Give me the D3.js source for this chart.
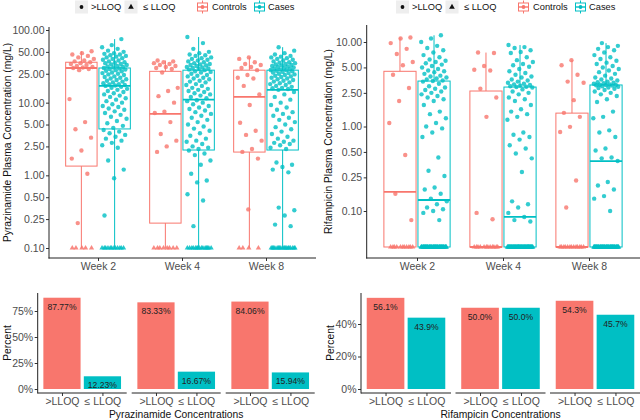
<!DOCTYPE html>
<html><head><meta charset="utf-8">
<script src="https://cdn.jsdelivr.net/npm/d3@7"></script>
<style>body{margin:0;background:#fff}svg{display:block;font-family:"Liberation Sans",Arial,sans-serif}</style>
</head><body><svg id="c" width="640" height="420"></svg>
<script>
const weeks = ["Week 2", "Week 4", "Week 8"];
const groups = ["Controls", "Cases"];
const groupColors = ["#F8766D", "#00BFC4"];
const concCats = [">LLOQ", "≤ LLOQ"];

// ---------- Pyrazinamide (mg/L), points above LLOQ, and counts at/below LLOQ ----------
const pzaTicks = [0.1, 0.25, 0.5, 1, 2.5, 5, 10, 25, 50, 100];
const pzaLloqValue = 0.1;
const pzaCtrlW2 = [51,48,46,44,42,40,38,37,36,35,34,33,32,31,30.5,30,29,28,11.2,5.4,4.3,3.3,2.2,1.7,1.05,0.22];
const pzaCaseW2 = [75,62,58,55,52,50,48,47,46,45,44,43,42,41,40,39,38,37,36,35.5,35,34,33.5,33,32,31.5,31,30.5,
  30,29.5,29,28.5,28,27.5,27,26,25.5,25,24.5,24,23,22.5,22,21.5,21,20.5,20,19.5,19,18.5,18,17.8,17.5,17.2,17,
  16.5,16,15.5,15,14.5,14,13.5,13,12.5,12,11.5,11,10.5,10,9.5,9,8.7,8.3,8,7.6,7.2,6.8,6.4,6,5.6,5.2,4.8,4.5,
  4.2,4,3.8,3.6,3.4,3.2,3,2.8,2.6,2.4,1.6,1.2,0.91,0.28];
const pzaCtrlW4 = [38,37,36,35,34,33,32,31,30,29,26,16,14.5,12.3,10,7.5,7.2,5.4,3.7,3.0,2.5,2.1];
const pzaCaseW4 = [80,66,55,50,48,46,45,44,42,41,40,39,38,37,36,35,34,33.5,33,32.5,32,31,30.5,30,29.5,29,28.5,
  28,27,26.5,26,25,24,23.5,23,22,21.5,21,20,19.5,19,18,17.5,17,16,15.5,15,14.5,14,13.5,13,12.5,12,11.5,
  10.8,10.5,10,9.5,9,8.6,8.2,7.8,7.4,7,6.6,6.2,5.8,5.4,5,4.7,4.4,4.1,3.8,3.5,3.2,3.0,2.9,2.7,2.5,2.4,2.3,
  2.2,2.0,1.9,1.6,1.4,1.05,0.85,0.8,0.55,0.45,0.2];
const pzaCtrlW8 = [42,40,36,34,33,31,30,28,24,22,21.5,17,13,9.3,5.3,4.1,3.6,3.0,2.3,2.1,1.7,0.34];
const pzaCaseW8 = [58,52,48,46,44,43,42,41,40,39,38,37,36,35.5,35,34,33.5,33,32.5,32,31.5,31,30.5,30,29.5,29,28.5,28.2,
  28,27.5,27,26.5,26,25.5,25,24.5,24,23.5,23,22.5,22,21.5,21,20.5,20,19.5,19,18.5,18,17.5,17,16.5,16,15.8,15.4,15,
  14,13,12,11,10,9.3,8.6,8,7.4,7,6.6,6.2,5.8,5.4,5,4.6,4.3,4,3.7,3.4,3.2,3.0,2.9,2.8,2.7,2.6,2.4,2.3,
  1.5,1.4,1.3,1.2,1.1,0.36,0.33,0.28,0.21,0.2];
const pzaCtrlBelow = [5, 8, 4];
const pzaCaseBelow = [12, 15, 18];
// box statistics per week
const pzaCtrlQ1 = [1.34, 0.22, 2.09], pzaCtrlMed = [30, 7, 12], pzaCtrlQ3 = [36, 27, 28], pzaCtrlMin = [0.1, 0.1, 0.1], pzaCtrlMax = [51, 38, 42];
const pzaCaseQ1 = [4.35, 2.23, 2.23], pzaCaseMed = [17, 11, 15], pzaCaseQ3 = [30, 28, 28], pzaCaseMin = [0.1, 0.1, 0.1], pzaCaseMax = [75, 80, 58];
const pzaPctAbove = [87.77, 83.33, 84.06];
const pzaPctBelow = [12.23, 16.67, 15.94];

// ---------- Rifampicin (mg/L) ----------
const rifTicks = [0.1, 0.25, 0.5, 1, 2.5, 5, 10];
const rifLloqValue = 0.0375;
const rifCtrlW2 = [11.3,11,9.7,8.3,7.2,5.8,5.3,4.1,2.85,2.0,1.1,0.46,0.16,0.078];
const rifCaseW2 = [12,11,10,9,8.5,8,7.5,7,6.6,6.2,6,5.8,5.6,5.4,5.2,5,4.8,4.6,4.5,4.4,4.2,4,3.9,3.8,3.7,3.6,3.5,3.45,
  3.4,3.2,3.0,2.9,2.8,2.7,2.6,2.5,2.4,2.3,2.2,2.1,2.0,1.8,1.5,1.4,1.25,1.1,1.0,0.95,
  0.85,0.75,0.43,0.3,0.26,0.19,0.18,0.16,0.14,0.13,0.12,0.11,0.105,0.1,0.095,0.078];
const rifCtrlW4 = [7.5,7.4,5.2,4.7,4.6,2.8,2.2,1.3,0.095,0.08];
const rifCaseW4 = [9.2,8.7,8.5,8,7.6,7.4,6.6,6.1,5.8,5.5,5.3,5.1,4.8,4.5,4.3,4.1,3.9,3.8,3.6,3.5,3.4,3.3,3.2,3.15,3.1,3.05,3.0,2.95,2.93,
  2.9,2.75,2.6,2.5,2.4,2.2,2.1,2.0,1.8,1.6,1.5,1.4,1.3,1.2,0.85,0.8,0.75,0.7,
  0.6,0.55,0.48,0.42,0.29,0.13,0.12,0.11,0.095,0.085,0.078,0.075];
const rifCtrlW8 = [6.1,5.3,4.1,3.4,3.3,2.05,1.45,1.3,0.99,0.86,0.23,0.11];
const rifCaseW8 = [9.7,9,8.7,8.3,8,7.5,7,6.6,6.3,6,5.7,5.5,5.2,5,4.8,4.6,4.4,4.2,4,3.8,3.7,3.6,3.5,3.4,3.35,3.3,3.25,3.2,
  3.15,3.12,3.1,3.1,3.08,3.05,3.0,2.95,2.9,2.85,2.8,2.7,2.6,2.5,2.4,2.3,2.1,1.95,1.5,1.3,1.25,
  0.9,0.85,0.75,0.55,0.52,0.43,0.42,0.39,0.22,0.2,0.18,0.15,0.14,0.1];
const rifCtrlBelow = [11, 12, 13];
const rifCaseBelow = [50, 57, 50];
const rifCtrlQ1 = [0.0375, 0.0375, 0.0375], rifCtrlMed = [0.168, 0.0375, 0.0375], rifCtrlQ3 = [4.5, 2.63, 1.44], rifCtrlMin = [0.0375, 0.0375, 0.0375], rifCtrlMax = [11.3, 7.5, 6.1];
const rifCaseQ1 = [0.0375, 0.0375, 0.0375], rifCaseMed = [0.135, 0.085, 0.39], rifCaseQ3 = [3.45, 2.93, 3.1], rifCaseMin = [0.0375, 0.0375, 0.0375], rifCaseMax = [12, 9.2, 9.7];
const rifPctAbove = [56.1, 50.0, 54.3];
const rifPctBelow = [43.9, 50.0, 45.7];

// ---------- drawing ----------
const svg = d3.select("#c");
const tickGrey = "#4d4d4d";
const axisCol = "#333";

function hline(g, x1, x2, y, col, w) { g.append("line").attr("x1", x1).attr("x2", x2).attr("y1", y).attr("y2", y).attr("stroke", col || axisCol).attr("stroke-width", w || 0.9); }
function vline(g, x, y1, y2, col, w) { g.append("line").attr("x1", x).attr("x2", x).attr("y1", y1).attr("y2", y2).attr("stroke", col || axisCol).attr("stroke-width", w || 0.9); }

function jit(i, seed) { return (((i + 1) * 0.6180339887 + seed * 0.2871) % 1) * 2 - 1; }

function drawTop(o) {
  const g = svg.append("g");
  const x = d3.scalePoint().domain(weeks).range(o.xRange);
  const u = o.unit;
  const y = d3.scaleLog().domain(o.yDomain).range(o.yRange);
  const ya = g.append("g").attr("transform", `translate(${o.axisX},0)`)
    .call(d3.axisLeft(y).tickValues(o.ticks).tickFormat(d3.format(".2f")).tickSize(3).tickPadding(1.5));
  ya.select(".domain").remove();
  ya.selectAll("line").attr("stroke", axisCol);
  ya.selectAll("text").attr("fill", tickGrey).style("font-size", "10.5px").style("font-family", "Liberation Sans, Arial, sans-serif");
  const xa = g.append("g").attr("transform", `translate(0,${o.axisY})`)
    .call(d3.axisBottom(x).tickSize(3).tickPadding(1.5));
  xa.select(".domain").remove();
  xa.selectAll("line").attr("stroke", axisCol);
  xa.selectAll("text").attr("fill", tickGrey).style("font-size", "10.5px").style("font-family", "Liberation Sans, Arial, sans-serif");
  vline(g, o.axisX, o.axisTop, o.axisY + 0.5, "#222", 1);
  hline(g, o.axisX - 0.5, o.axisRight, o.axisY, "#222", 1);
  g.append("text").attr("transform", `translate(${o.titleX},${(o.axisTop + o.axisY) / 2}) rotate(-90)`)
    .attr("text-anchor", "middle").attr("dy", "0.35em").style("font-size", "10.3px").attr("fill", "#111").text(o.title);

  const dodge = 0.198 * u, hw = 0.187 * u, jw = 0.15 * u;
  groups.forEach((grp, gi) => {
    const s = o.stats[gi];
    const col = groupColors[gi];
    weeks.forEach((w, wi) => {
      const cx = x(w) + (gi === 0 ? -dodge : dodge);
      vline(g, cx, y(s.q3[wi]), y(s.max[wi]), col, 1);
      vline(g, cx, y(s.q1[wi]), y(s.min[wi]), col, 1);
      g.append("rect").attr("x", cx - hw).attr("y", y(s.q3[wi])).attr("width", 2 * hw)
        .attr("height", Math.max(0, y(s.q1[wi]) - y(s.q3[wi]))).attr("fill", "none").attr("stroke", col).attr("stroke-width", 1);
      hline(g, cx - hw, cx + hw, y(s.med[wi]), col, 1.8);
    });
  });
  groups.forEach((grp, gi) => {
    const col = groupColors[gi];
    weeks.forEach((w, wi) => {
      const cx = x(w) + (gi === 0 ? -dodge : dodge);
      const vals = o.points[gi][wi];
      const seed = gi * 3 + wi + 1;
      g.selectAll(null).data(vals).enter().append("circle")
        .attr("cx", (d, i) => cx + jit(i, seed) * jw).attr("cy", d => y(d)).attr("r", 2.2)
        .attr("fill", col).attr("fill-opacity", 0.8);
      const nb = o.below[gi][wi];
      const tri = d3.symbol().type(d3.symbolTriangle).size(12);
      g.selectAll(null).data(d3.range(nb)).enter().append("path").attr("d", tri)
        .attr("transform", (d, i) => `translate(${cx + jit(i + 7, seed + 5) * jw},${y(o.lloq)})`)
        .attr("fill", col).attr("fill-opacity", 0.85);
    });
  });
}

drawTop({
  xRange: [98, 266], unit: 84, yDomain: [0.1, 100], yRange: [248, 30], ticks: pzaTicks,
  axisX: 49, axisY: 258, axisTop: 27, axisRight: 316, titleX: 7, lloq: pzaLloqValue,
  title: "Pyrazinamide Plasma Concentration (mg/L)",
  stats: [{ q1: pzaCtrlQ1, med: pzaCtrlMed, q3: pzaCtrlQ3, min: pzaCtrlMin, max: pzaCtrlMax },
          { q1: pzaCaseQ1, med: pzaCaseMed, q3: pzaCaseQ3, min: pzaCaseMin, max: pzaCaseMax }],
  points: [[pzaCtrlW2, pzaCtrlW4, pzaCtrlW8], [pzaCaseW2, pzaCaseW4, pzaCaseW8]],
  below: [pzaCtrlBelow, pzaCaseBelow]
});
drawTop({
  xRange: [417, 589], unit: 86, yDomain: [0.1, 10], yRange: [211, 42], ticks: rifTicks,
  axisX: 366.7, axisY: 258, axisTop: 25, axisRight: 640, titleX: 328.5, lloq: rifLloqValue,
  title: "Rifampicin Plasma Concentration (mg/L)",
  stats: [{ q1: rifCtrlQ1, med: rifCtrlMed, q3: rifCtrlQ3, min: rifCtrlMin, max: rifCtrlMax },
          { q1: rifCaseQ1, med: rifCaseMed, q3: rifCaseQ3, min: rifCaseMin, max: rifCaseMax }],
  points: [[rifCtrlW2, rifCtrlW4, rifCtrlW8], [rifCaseW2, rifCaseW4, rifCaseW8]],
  below: [rifCtrlBelow, rifCaseBelow]
});

function drawLegend(ox) {
  const g = svg.append("g").attr("transform", `translate(${ox},0)`);
  const yc = 7;
  g.append("rect").attr("x", 75).attr("y", 0.5).attr("width", 13).attr("height", 13).attr("fill", "#eeeeee");
  g.append("circle").attr("cx", 81.5).attr("cy", yc).attr("r", 1.9).attr("fill", "#111");
  g.append("text").attr("x", 91).attr("y", yc).attr("dy", "0.35em").style("font-size", "9.3px").attr("fill", "#111").text(">LLOQ");
  g.append("rect").attr("x", 124.5).attr("y", 0.5).attr("width", 13).attr("height", 13).attr("fill", "#eeeeee");
  g.append("path").attr("d", d3.symbol().type(d3.symbolTriangle).size(14)).attr("transform", `translate(131,${yc})`).attr("fill", "#111");
  g.append("text").attr("x", 143).attr("y", yc).attr("dy", "0.35em").style("font-size", "9.3px").attr("fill", "#111").text("≤ LLOQ");
  const keys = [{ x: 196, tx: 212, label: groups[0], col: groupColors[0] }, { x: 253, tx: 268, label: groups[1], col: groupColors[1] }];
  keys.forEach(k => {
    const cx = k.x + 6.5;
    vline(g, cx, 0.5, 3, k.col, 1);
    vline(g, cx, 11, 13.5, k.col, 1);
    g.append("rect").attr("x", k.x + 1.5).attr("y", 3).attr("width", 10).attr("height", 8).attr("fill", "none").attr("stroke", k.col).attr("stroke-width", 1);
    hline(g, k.x + 1.5, k.x + 11.5, yc, k.col, 1.4);
    g.append("circle").attr("cx", cx).attr("cy", yc).attr("r", 1.9).attr("fill", k.col);
    g.append("text").attr("x", k.tx).attr("y", yc).attr("dy", "0.35em").style("font-size", "9.3px").attr("fill", "#111").text(k.label);
  });
}
drawLegend(0);
drawLegend(321);

function drawBars(o) {
  const g = svg.append("g");
  const y = d3.scaleLinear().domain([0, 100]).range([389, 389 - 100 * o.pxPerPct]);
  const ya = g.append("g").attr("transform", `translate(${o.x0},0)`)
    .call(d3.axisLeft(y).tickValues(o.ticks).tickFormat(d => d + "%").tickSize(3).tickPadding(1.5));
  ya.select(".domain").remove();
  ya.selectAll("line").attr("stroke", axisCol);
  ya.selectAll("text").attr("fill", tickGrey).style("font-size", "10.5px").style("font-family", "Liberation Sans, Arial, sans-serif");
  vline(g, o.x0, 293, 393.5, "#222", 1);
  weeks.forEach((w, wi) => {
    const px0 = o.x0 + wi * (o.W + o.gap), px1 = px0 + o.W;
    const xp = d3.scalePoint().domain(concCats).range([px0 + o.W * 0.6 / 2.2, px1 - o.W * 0.6 / 2.2]);
    const u = o.W / 2.2, bw = 0.92 * u;
    const vals = [o.above[wi], o.below[wi]];
    concCats.forEach((c, ci) => {
      const cx = xp(c);
      g.append("rect").attr("x", cx - bw / 2).attr("y", y(vals[ci])).attr("width", bw).attr("height", y(0) - y(vals[ci]))
        .attr("fill", groupColors[ci]);
      g.append("text").attr("x", cx).attr("y", y(vals[ci]) + 12).attr("text-anchor", "middle")
        .style("font-size", "8.6px").attr("fill", "#222").text(vals[ci].toFixed(o.dec) + "%");
    });
    const xa = g.append("g").attr("transform", "translate(0,393)").call(d3.axisBottom(xp).tickSize(3).tickPadding(1.5));
    xa.select(".domain").remove();
    xa.selectAll("line").attr("stroke", axisCol);
    xa.selectAll("text").attr("fill", tickGrey).style("font-size", "10.5px").style("font-family", "Liberation Sans, Arial, sans-serif");
    hline(g, px0, px1, 393, "#222", 1);
  });
  const xEnd = o.x0 + 3 * o.W + 2 * o.gap;
  g.append("text").attr("x", (o.x0 + xEnd) / 2).attr("y", 418).attr("text-anchor", "middle").style("font-size", "10.3px").attr("fill", "#111").text(o.title);
  g.append("text").attr("transform", `translate(${o.titleX},343) rotate(-90)`).attr("text-anchor", "middle").attr("dy", "0.35em")
    .style("font-size", "10.3px").attr("fill", "#111").text("Percent");
}
drawBars({ x0: 37.7, W: 89, gap: 5, pxPerPct: 1.04, ticks: [0, 25, 50, 75], above: pzaPctAbove, below: pzaPctBelow, dec: 2,
  title: "Pyrazinamide Concentrations", titleX: 7 });
drawBars({ x0: 361, W: 90, gap: 4.5, pxPerPct: 1.625, ticks: [0, 20, 40], above: rifPctAbove, below: rifPctBelow, dec: 1,
  title: "Rifampicin Concentrations", titleX: 330 });
</script></body></html>
